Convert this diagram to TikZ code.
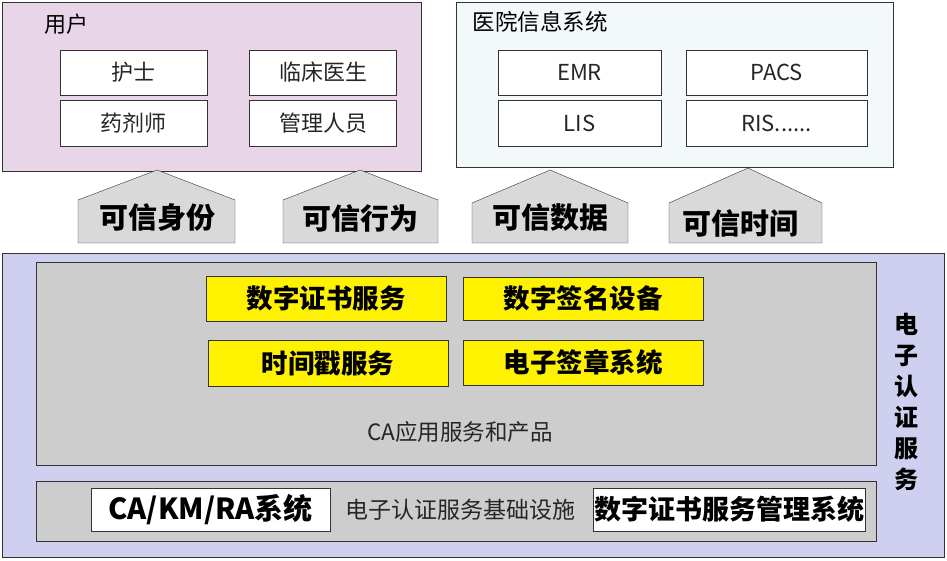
\documentclass[tikz,border=0pt]{standalone}
\usepackage{fontspec}
\setmainfont{Noto Sans CJK SC}
\usepackage{xcolor}
\usepackage{tikz}
\definecolor{userpink}{HTML}{E8D6E8}
\definecolor{hisblue}{HTML}{F3F8FA}
\definecolor{calilac}{HTML}{CFCFEF}
\definecolor{capgray}{HTML}{CDCDCD}
\definecolor{housegray}{HTML}{D9D9D9}

\begin{document}
\begin{tikzpicture}[x=1pt,y=1pt,
	item/.style={draw=black!80, fill=white, inner sep=0pt, font=\fontsize{22}{26}\selectfont, text=black!85},
	product/.style={draw=black!80, fill=yellow, inner sep=0pt, minimum width=240, font=\bfseries\fontsize{26.5}{30}\selectfont},
	infra/.style={draw=black!80, fill=white, inner sep=0pt, minimum height=43, font=\bfseries\fontsize{27}{30}\selectfont},
	house/.style={draw=black!80, fill=housegray},
	trust/.style={font=\bfseries\fontsize{29}{32}\selectfont}]
	\useasboundingbox (0,0) rectangle (947,560);
	% upper part
	\draw[draw=black!80, fill=userpink] (2,558) rectangle (421,389);
	\node[anchor=west, font=\fontsize{22}{26}\selectfont] (user) at (41,536) {用户};
	\draw[draw=black!80, fill=hisblue] (456,558) rectangle (893,393);
	\node[anchor=west, font=\fontsize{22.5}{26}\selectfont] (his) at (469,538) {医院信息系统};
	\node[item, minimum width=147, minimum height=45] (nurse) at (133.5,487.5) {护士};
	\node[item, minimum width=147, minimum height=45] (doctor) at (323,487.5) {临床医生};
	\node[item, minimum width=147, minimum height=46] (pharm) at (133.5,437) {药剂师};
	\node[item, minimum width=147, minimum height=46] (admin) at (323,437) {管理人员};
	\node[item, minimum width=163, minimum height=45] (emr) at (579.5,487.5) {EMR};
	\node[item, minimum width=181, minimum height=45] (pacs) at (776.5,487.5) {PACS};
	\node[item, minimum width=163, minimum height=46] (lis) at (579.5,437) {LIS};
	\node[item, minimum width=181, minimum height=46] (ris) at (776.5,437) {RIS......};
	% trust arrows
	\draw[house] (78,317) -- (78,360) -- (157,390) -- (235,360) -- (235,317) -- cycle;
	\draw[house] (283,317) -- (283,360) -- (360,390) -- (438,360) -- (438,317) -- cycle;
	\draw[house] (472,317) -- (472,357) -- (550,390) -- (628,357) -- (628,317) -- cycle;
	\draw[house] (669,317) -- (669,357) -- (748,392) -- (822,357) -- (822,317) -- cycle;
	\node[trust] (identity) at (157,342) {可信身份};
	\node[trust] (behavior) at (360,342) {可信行为};
	\node[trust] (data) at (550,342) {可信数据};
	\node[trust] (time) at (740,337) {可信时间};
	% CA part
	\draw[draw=black!80, fill=calilac] (2,307) rectangle (944,3);
	\draw[draw=black!80, fill=capgray] (36,298) rectangle (876,95);
	\draw[draw=black!80, fill=capgray] (36,79) rectangle (876,19);
	\node[product, minimum height=45] (cert) at (326,261.5) {数字证书服务};
	\node[product, minimum height=43] (sign) at (583,261.5) {数字签名设备};
	\node[product, minimum height=46] (stamp) at (328,197) {时间戳服务};
	\node[product, minimum height=45] (seal) at (583,197.5) {电子签章系统};
	\node[font=\fontsize{22.5}{26}\selectfont, text=black!85] (app) at (460,128) {CA应用服务和产品};
	\node[infra, minimum width=239, font=\bfseries\fontsize{29}{30}\selectfont] (kmra) at (210.5,50.5) {CA/KM/RA系统};
	\node[font=\fontsize{23}{26}\selectfont, text=black!85] (base) at (460,50) {电子认证服务基础设施};
	\node[infra, minimum width=272] (mgmt) at (729,50.5) {数字证书服务管理系统};
	\node[align=center, font=\bfseries\fontsize{24}{31}\selectfont] (ecert) at (906,158)
		{电\\子\\认\\证\\服\\务};
\end{tikzpicture}
\end{document}
